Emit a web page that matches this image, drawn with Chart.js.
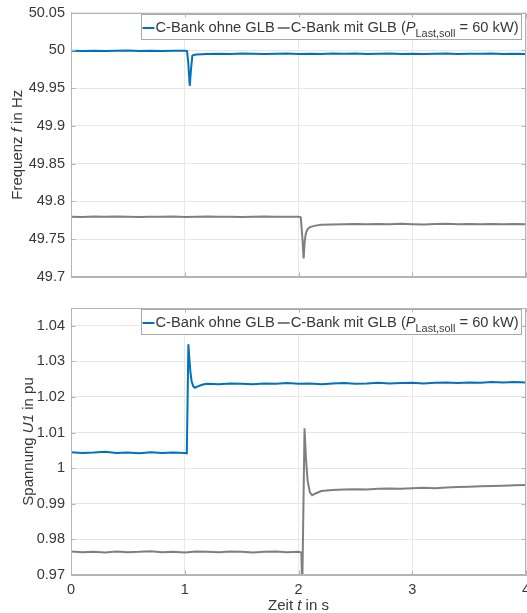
<!DOCTYPE html>
<html>
<head>
<meta charset="utf-8">
<script src="https://cdn.jsdelivr.net/npm/chart.js@4.4.0/dist/chart.umd.min.js"></script>
<style>
    html, body { margin: 0; padding: 0; background: #fff; }
    #wrap { position: relative; width: 527px; height: 613px; overflow: hidden; }
    canvas { position: absolute; left: 0; }
    #freqChart { top: 0; }
    #voltChart { top: 292px; }
</style>
</head>
<body>
<div id="wrap">
    <canvas id="freqChart" width="527" height="292"></canvas>
    <canvas id="voltChart" width="527" height="321"></canvas>
</div>
<script>
// ---- Achsen-Ticks ----
const xTicks = [0, 1, 2, 3, 4];
const freqTicks = [49.7, 49.75, 49.8, 49.85, 49.9, 49.95, 50, 50.05];
const voltTicks = [0.97, 0.98, 0.99, 1, 1.01, 1.02, 1.03, 1.04];

// ---- Frequenz, C-Bank ohne GLB ----
const freqOhneT = [0, 0.1, 0.2, 0.3, 0.4, 0.5, 0.6, 0.7, 0.8, 0.9, 1.0,
    1.02, 1.03, 1.044, 1.055, 1.067, 1.08, 1.1,
    1.2, 1.3, 1.4, 1.5, 1.6, 1.7, 1.8, 1.9, 2.0, 2.1, 2.2, 2.3, 2.4, 2.5, 2.6, 2.7, 2.8, 2.9,
    3.0, 3.1, 3.2, 3.3, 3.4, 3.5, 3.6, 3.7, 3.8, 3.9, 4.0];
const freqOhneV = [49.9994, 49.9991, 49.9995, 49.9990, 49.9993, 49.9996, 49.9991, 49.9994, 49.9992, 49.9995, 49.9993,
    49.9989, 49.9850, 49.9530, 49.9750, 49.9928, 49.9938, 49.9944,
    49.9951, 49.9955, 49.9952, 49.9957, 49.9953, 49.9950, 49.9955, 49.9958, 49.9952, 49.9954, 49.9951, 49.9956,
    49.9953, 49.9957, 49.9951, 49.9954, 49.9956, 49.9952, 49.9955, 49.9950, 49.9954, 49.9957, 49.9952, 49.9955,
    49.9953, 49.9956, 49.9951, 49.9954, 49.9952];

// ---- Frequenz, C-Bank mit GLB ----
const freqMitT = [0, 0.1, 0.2, 0.3, 0.4, 0.5, 0.6, 0.7, 0.8, 0.9, 1.0, 1.1, 1.2, 1.3, 1.4, 1.5, 1.6, 1.7, 1.8, 1.9, 2.0,
    2.02, 2.035, 2.045, 2.055, 2.065, 2.08, 2.1, 2.15, 2.2,
    2.3, 2.4, 2.5, 2.6, 2.7, 2.8, 2.9, 3.0, 3.1, 3.2, 3.3, 3.4, 3.5, 3.6, 3.7, 3.8, 3.9, 4.0];
const freqMitV = [49.7798, 49.7795, 49.7799, 49.7796, 49.7800, 49.7797, 49.7794, 49.7798, 49.7796, 49.7799, 49.7795,
    49.7797, 49.7800, 49.7796, 49.7798, 49.7794, 49.7797, 49.7799, 49.7796, 49.7798, 49.7797,
    49.7791, 49.7500, 49.7245, 49.7480, 49.7580, 49.7635, 49.7660, 49.7680, 49.7690,
    49.7695, 49.7699, 49.7702, 49.7697, 49.7701, 49.7698, 49.7703, 49.7699, 49.7696, 49.7701, 49.7704, 49.7698,
    49.7700, 49.7697, 49.7702, 49.7699, 49.7701, 49.7698];

// ---- Spannung U1, C-Bank ohne GLB ----
const voltOhneT = [0, 0.1, 0.2, 0.3, 0.4, 0.5, 0.6, 0.7, 0.8, 0.9, 1.0,
    1.018, 1.032, 1.04, 1.05, 1.06, 1.075, 1.09, 1.11, 1.14, 1.17, 1.2,
    1.3, 1.4, 1.5, 1.6, 1.7, 1.8, 1.9, 2.0, 2.1, 2.2, 2.3, 2.4, 2.5, 2.6, 2.7, 2.8, 2.9,
    3.0, 3.1, 3.2, 3.3, 3.4, 3.5, 3.6, 3.7, 3.8, 3.9, 4.0];
const voltOhneV = [1.0045, 1.0043, 1.0044, 1.0046, 1.0043, 1.0044, 1.0042, 1.0045, 1.0043, 1.0044, 1.0043,
    1.0042, 1.0348, 1.0310, 1.0270, 1.0245, 1.0230, 1.0226, 1.0229, 1.0233, 1.0236, 1.0237,
    1.0236, 1.0238, 1.0237, 1.0236, 1.0238, 1.0237, 1.0239, 1.0237, 1.0238, 1.0236, 1.0238, 1.0239, 1.0237, 1.0238,
    1.0240, 1.0238, 1.0239, 1.0240, 1.0238, 1.0240, 1.0241, 1.0239, 1.0241, 1.0240, 1.0242, 1.0241, 1.0242, 1.0241];

// ---- Spannung U1, C-Bank mit GLB ----
const voltMitT = [0, 0.1, 0.2, 0.3, 0.4, 0.5, 0.6, 0.7, 0.8, 0.9, 1.0, 1.1, 1.2, 1.3, 1.4, 1.5, 1.6, 1.7, 1.8, 1.9, 2.0,
    2.025, 2.033, 2.053, 2.065, 2.08, 2.1, 2.12, 2.15, 2.2,
    2.3, 2.4, 2.5, 2.6, 2.7, 2.8, 2.9, 3.0, 3.1, 3.2, 3.3, 3.4, 3.5, 3.6, 3.7, 3.8, 3.9, 4.0];
const voltMitV = [0.9766, 0.9764, 0.9765, 0.9763, 0.9766, 0.9764, 0.9765, 0.9767, 0.9764, 0.9765, 0.9763,
    0.9766, 0.9765, 0.9764, 0.9766, 0.9765, 0.9763, 0.9765, 0.9766, 0.9764, 0.9765,
    0.9763, 0.9660, 1.0112, 1.0030, 0.9965, 0.9932, 0.9924, 0.9929, 0.9936,
    0.9939, 0.9940, 0.9941, 0.9940, 0.9942, 0.9943, 0.9942, 0.9944, 0.9945, 0.9944, 0.9946, 0.9947,
    0.9948, 0.9949, 0.9950, 0.9951, 0.9952, 0.9953];

// ---- Beschriftungen (Teile: normal / kursiv / tiefgestellt) ----
const legendOhne = [{ t: 'C-Bank ohne GLB' }];
const legendMit = [{ t: 'C-Bank mit GLB (' }, { t: 'P', it: true }, { t: 'Last,soll', sub: true }, { t: ' = 60 kW)' }];
const freqTitle = [{ t: 'Frequenz ' }, { t: 'f', it: true }, { t: ' in Hz' }];
const voltTitle = [{ t: 'Spannung ' }, { t: 'U1', it: true }, { t: ' in pu' }];
const timeTitle = [{ t: 'Zeit ' }, { t: 't', it: true }, { t: ' in s' }];

// Stil
const COL = {
    blue: '#0072BD',
    gray: '#7f7f7f',
    grid: '#e8e8e8',
    axis: '#b4b4b4',
    text: '#383838',
    legendBorder: '#a9a9a9'
};
const FONT = "'Liberation Sans', Arial, sans-serif";

const toPoints = (t, v) => t.map((x, i) => ({ x: x, y: v[i] }));

function partFont(p, size) {
    const s = p.sub ? size * 0.74 : size;
    return (p.it ? 'italic ' : '') + s + 'px ' + FONT;
}

function measureParts(ctx, parts, size) {
    let w = 0;
    parts.forEach(p => { ctx.font = partFont(p, size); w += ctx.measureText(p.t).width; });
    return w;
}

// Text aus Teilen zeichnen (für kursive Variablen und Indizes)
function drawParts(ctx, parts, size, x, y, align) {
    const w = measureParts(ctx, parts, size);
    let cx = align === 'center' ? x - w / 2 : x;
    parts.forEach(p => {
        ctx.font = partFont(p, size);
        ctx.fillText(p.t, cx, y + (p.sub ? size * 0.36 : 0));
        cx += ctx.measureText(p.t).width;
    });
    return w;
}

// Rahmen (box on) + nach innen zeigende Ticks wie in MATLAB
const framePlugin = {
    id: 'frame',
    afterDraw(chart) {
        const { ctx, chartArea: a, scales } = chart;
        const L = Math.round(a.left) + 0.5, R = Math.round(a.right) - 0.5;
        const T = Math.round(a.top) + 0.5, B = Math.round(a.bottom) - 0.5;
        ctx.save();
        ctx.strokeStyle = COL.axis;
        ctx.lineWidth = 1;
        ctx.strokeRect(L, T, R - L, B - T);
        ctx.beginPath();
        scales.x.ticks.forEach(tk => {
            const px = Math.round(scales.x.getPixelForValue(tk.value)) + 0.5;
            ctx.moveTo(px, B); ctx.lineTo(px, B - 4);
            ctx.moveTo(px, T); ctx.lineTo(px, T + 4);
        });
        scales.y.ticks.forEach(tk => {
            const py = Math.round(scales.y.getPixelForValue(tk.value)) + 0.5;
            ctx.moveTo(L, py); ctx.lineTo(L + 4, py);
            ctx.moveTo(R, py); ctx.lineTo(R - 4, py);
        });
        ctx.stroke();
        ctx.restore();
    }
};

// Legende als Kasten oben rechts
const legendPlugin = {
    id: 'boxLegend',
    afterDatasetsDraw(chart) {
        const { ctx, chartArea: a } = chart;
        const ds = chart.data.datasets;
        const size = 14.7, sample = 12, gap = 3;
        ctx.save();
        ctx.textBaseline = 'alphabetic';
        const widths = ds.map(d => measureParts(ctx, d.legendParts, size));
        const total = Math.round(1 + widths.reduce((s, w) => s + sample + 1 + w, 0) + gap * (ds.length - 1) + 3);
        const right = Math.round(a.right) - 5;
        const top = Math.round(a.top) + 1;
        const h = 25;
        const left = right - total;
        ctx.fillStyle = '#fff';
        ctx.fillRect(left, top, total, h);
        ctx.strokeStyle = COL.legendBorder;
        ctx.lineWidth = 1;
        ctx.strokeRect(left + 0.5, top + 0.5, total, h);
        let x = left + 1.5;
        ds.forEach((d, i) => {
            ctx.strokeStyle = d.borderColor;
            ctx.lineWidth = 2;
            ctx.beginPath();
            ctx.moveTo(x, top + 14);
            ctx.lineTo(x + sample, top + 14);
            ctx.stroke();
            x += sample + 1;
            ctx.fillStyle = COL.text;
            drawParts(ctx, d.legendParts, size, x, top + 18, 'left');
            x += widths[i] + gap;
        });
        ctx.restore();
    }
};

// Achsentitel mit kursiven Teilen
const titlePlugin = {
    id: 'axisTitles',
    afterDraw(chart, args, o) {
        const { ctx, chartArea: a } = chart;
        ctx.save();
        ctx.fillStyle = COL.text;
        ctx.textBaseline = 'middle';
        ctx.save();
        ctx.translate(o.yX, (a.top + a.bottom) / 2);
        ctx.rotate(-Math.PI / 2);
        drawParts(ctx, o.yParts, 15, 0, 0, 'center');
        ctx.restore();
        if (o.xParts) {
            drawParts(ctx, o.xParts, 15, (a.left + a.right) / 2, o.xY, 'center');
        }
        ctx.restore();
    }
};

function makeChart(canvasId, series, yRange, yTicks, opts) {
    const ctx = document.getElementById(canvasId).getContext('2d');
    return new Chart(ctx, {
        type: 'line',
        data: {
            datasets: series.map(s => ({
                data: s.data,
                legendParts: s.legend,
                borderColor: s.color,
                borderWidth: 2,
                pointRadius: 0,
                tension: 0,
                fill: false
            }))
        },
        options: {
            responsive: false,
            animation: false,
            events: [],
            layout: { padding: opts.padding },
            plugins: {
                legend: { display: false },
                tooltip: { enabled: false },
                axisTitles: opts.titles
            },
            scales: {
                x: {
                    type: 'linear',
                    min: 0,
                    max: 4,
                    afterBuildTicks: s => { s.ticks = xTicks.map(v => ({ value: v })); },
                    afterFit: s => { s.height = opts.xHeight; s.paddingLeft = 0; s.paddingRight = 0; },
                    grid: { color: COL.grid, drawTicks: false },
                    border: { color: COL.axis },
                    ticks: {
                        display: opts.showX,
                        padding: 6,
                        maxRotation: 0,
                        color: COL.text,
                        font: { family: FONT, size: 14.5 }
                    }
                },
                y: {
                    min: yRange[0],
                    max: yRange[1],
                    afterBuildTicks: s => { s.ticks = yTicks.map(v => ({ value: v })); },
                    afterFit: s => { s.width = 71; s.paddingTop = 0; s.paddingBottom = 0; },
                    grid: { color: COL.grid, drawTicks: false },
                    border: { color: COL.axis },
                    ticks: {
                        padding: 6,
                        autoSkip: false,
                        color: COL.text,
                        font: { family: FONT, size: 14.5 },
                        callback: v => String(parseFloat(Number(v).toFixed(3)))
                    }
                }
            }
        },
        plugins: [legendPlugin, framePlugin, titlePlugin]
    });
}

// Oben: Frequenz
makeChart('freqChart', [
    { data: toPoints(freqOhneT, freqOhneV), color: COL.blue, legend: legendOhne },
    { data: toPoints(freqMitT, freqMitV), color: COL.gray, legend: legendMit }
], [49.7, 50.05], freqTicks, {
    padding: { top: 12.5, right: 1, bottom: 15, left: 0 },
    xHeight: 0,
    showX: false,
    titles: { yParts: freqTitle, yX: 18 }
});

// Unten: Spannung
makeChart('voltChart', [
    { data: toPoints(voltOhneT, voltOhneV), color: COL.blue, legend: legendOhne },
    { data: toPoints(voltMitT, voltMitV), color: COL.gray, legend: legendMit }
], [0.97, 1.045], voltTicks, {
    padding: { top: 16, right: 1, bottom: 0, left: 0 },
    xHeight: 38,
    showX: true,
    titles: { yParts: voltTitle, yX: 29, xParts: timeTitle, xY: 314 }
});
</script>
</body>
</html>
